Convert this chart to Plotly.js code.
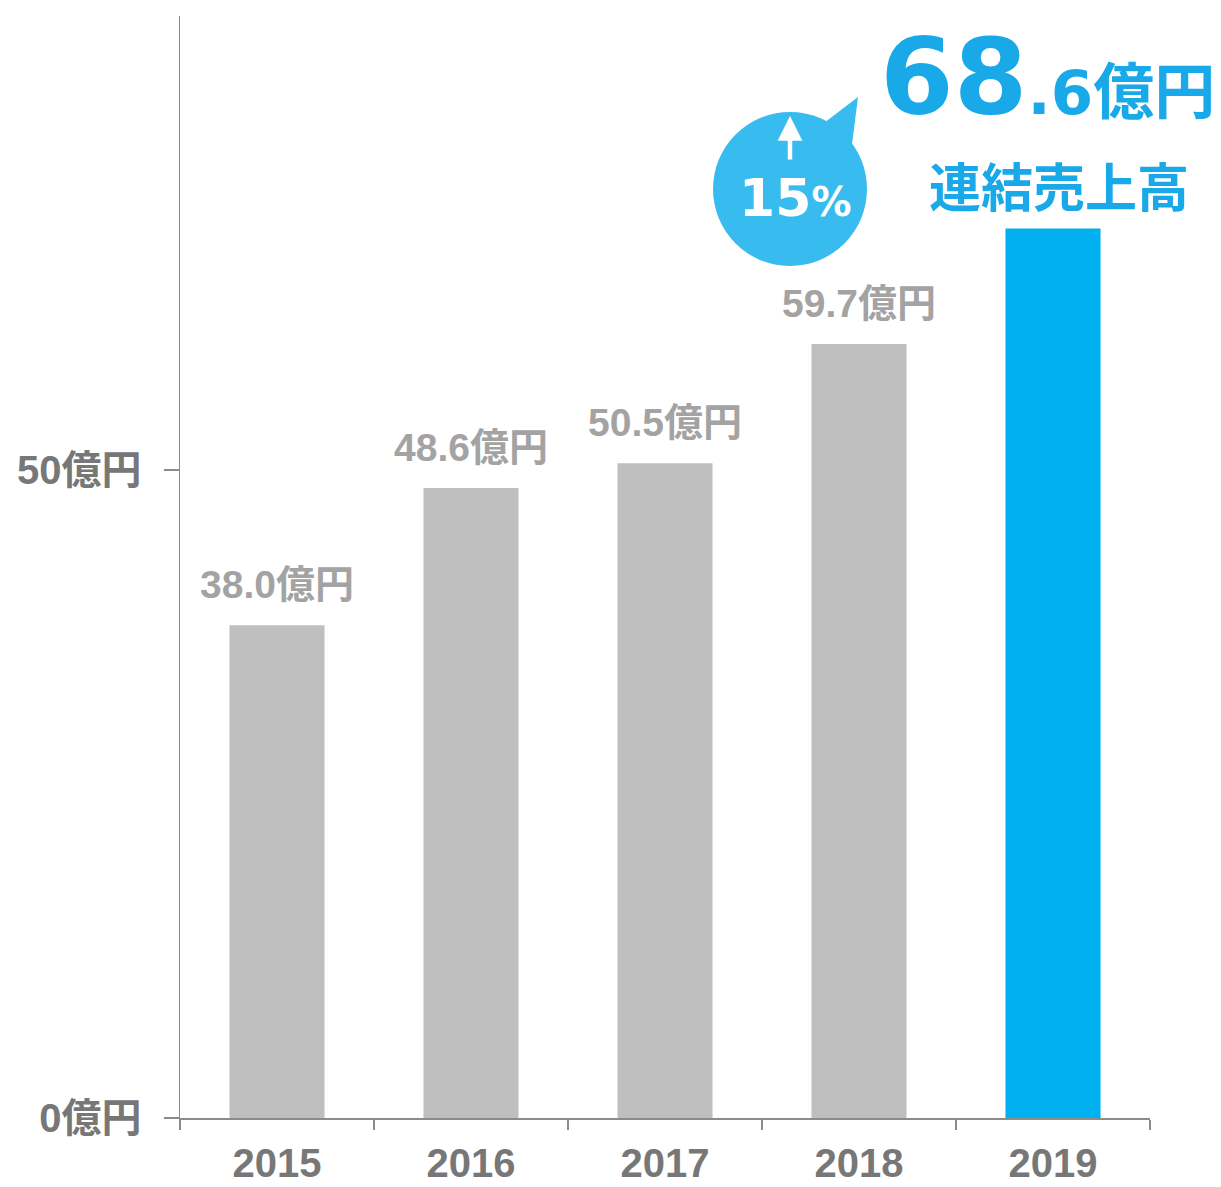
<!DOCTYPE html>
<html>
<head>
<meta charset="utf-8">
<script src="https://cdn.plot.ly/plotly-3.0.1.min.js"></script>
<style>html,body{margin:0;padding:0;background:#fff;}</style>
</head>
<body>
<div id="chart" style="width:1221px;height:1187px;"></div>
<script>
const years = ['2015', '2016', '2017', '2018', '2019'];
const sales = [38.0, 48.6, 50.5, 59.7, 68.6];
const barColors = ['#bfbfbf', '#bfbfbf', '#bfbfbf', '#bfbfbf', '#00b0f0'];
const yTickVals = [0, 50];
const yTickText = ['0億円', '50億円'];
const unit = '億円';
const growthText = '15';
const headline = '連結売上高';

const latinFont = '"Liberation Sans", Arial, "Noto Sans CJK JP", sans-serif';
const wideFont = '"DejaVu Sans", "Noto Sans CJK JP", sans-serif';
const blue = '#1aa9e8';

// plot area in pixels: x 180..1150, y 16..1118
const L = 180, R = 1150, T = 16, B = 1118;
const px = v => (v - L) / (R - L);
const py = v => (B - v) / (B - T);

const annotations = [];
for (let i = 0; i < years.length - 1; i++) {
  annotations.push({
    x: i, y: sales[i], xref: 'x', yref: 'y',
    text: '<b>' + sales[i].toFixed(1) + unit + '</b>',
    showarrow: false, yanchor: 'bottom', xanchor: 'center', yshift: 17,
    font: {family: latinFont, size: 39, color: '#a3a3a3'}
  });
}
const last = years.length - 1;
const lastStr = sales[last].toFixed(1);
const intPart = lastStr.split('.')[0];
const decPart = '.' + lastStr.split('.')[1];
annotations.push({
  x: px(878), y: py(77), xref: 'paper', yref: 'paper',
  text: '<b>' + intPart + '<span style="font-size:61px">' + decPart + unit + '</span></b>',
  showarrow: false, xanchor: 'left', yanchor: 'middle',
  font: {family: wideFont, size: 106, color: blue}
});
annotations.push({
  x: px(1059), y: py(185), xref: 'paper', yref: 'paper',
  text: '<b>' + headline + '</b>',
  showarrow: false, xanchor: 'center', yanchor: 'middle',
  font: {family: '"Noto Sans CJK JP", sans-serif', size: 52, color: blue}
});
// growth bubble text
annotations.push({
  x: px(795), y: py(198), xref: 'paper', yref: 'paper',
  text: '<b>' + growthText + '<span style="font-size:40px">%</span></b>',
  showarrow: false, xanchor: 'center', yanchor: 'middle',
  font: {family: wideFont, size: 52, color: '#ffffff'}
});
// up arrow in bubble
annotations.push({
  x: px(790), y: py(116), xref: 'paper', yref: 'paper',
  ax: 0, ay: 45, axref: 'pixel', ayref: 'pixel',
  text: '', showarrow: true, arrowhead: 2, arrowsize: 1.1, arrowwidth: 4.5,
  arrowcolor: '#ffffff', standoff: 0, startstandoff: 0
});

const shapes = [
  {type: 'circle', xref: 'paper', yref: 'paper',
   x0: px(713), x1: px(867), y0: py(266), y1: py(112),
   fillcolor: '#38bbef', line: {width: 0}, layer: 'above'},
  {type: 'path', xref: 'paper', yref: 'paper',
   path: 'M ' + px(820) + ' ' + py(126) + ' L ' + px(858) + ' ' + py(97) + ' L ' + px(851) + ' ' + py(152) + ' Z',
   fillcolor: '#38bbef', line: {width: 0}, layer: 'above'}
];

const data = [{
  type: 'bar', x: years, y: sales,
  marker: {color: barColors, line: {width: 0}},
  width: 0.49, hoverinfo: 'none'
}];

const layout = {
  width: 1221, height: 1187,
  margin: {l: L, r: 1221 - R, t: T, b: 1187 - B},
  paper_bgcolor: '#ffffff', plot_bgcolor: '#ffffff',
  showlegend: false,
  bargap: 0.51,
  xaxis: {
    type: 'category', range: [-0.5, 4.5],
    showline: true, linecolor: '#8c8c8c', linewidth: 1.5,
    ticks: 'outside', tickson: 'boundaries', ticklen: 10, tickwidth: 1.5, tickcolor: '#8c8c8c',
    showgrid: false, zeroline: false, ticklabelstandoff: 9,
    tickfont: {family: latinFont, size: 40, color: '#777777', weight: 'bold'}
  },
  yaxis: {
    range: [0, 85], showline: true, linecolor: '#8c8c8c', linewidth: 1.5,
    ticks: 'outside', ticklen: 15, tickwidth: 1.5, tickcolor: '#8c8c8c',
    tickvals: yTickVals, ticktext: yTickText,
    showgrid: false, zeroline: false, ticklabelstandoff: 14,
    tickfont: {family: latinFont, size: 40, color: '#777777', weight: 'bold'}
  },
  annotations: annotations,
  shapes: shapes
};

Plotly.newPlot('chart', data, layout, {displayModeBar: false, staticPlot: true});
</script>
</body>
</html>
